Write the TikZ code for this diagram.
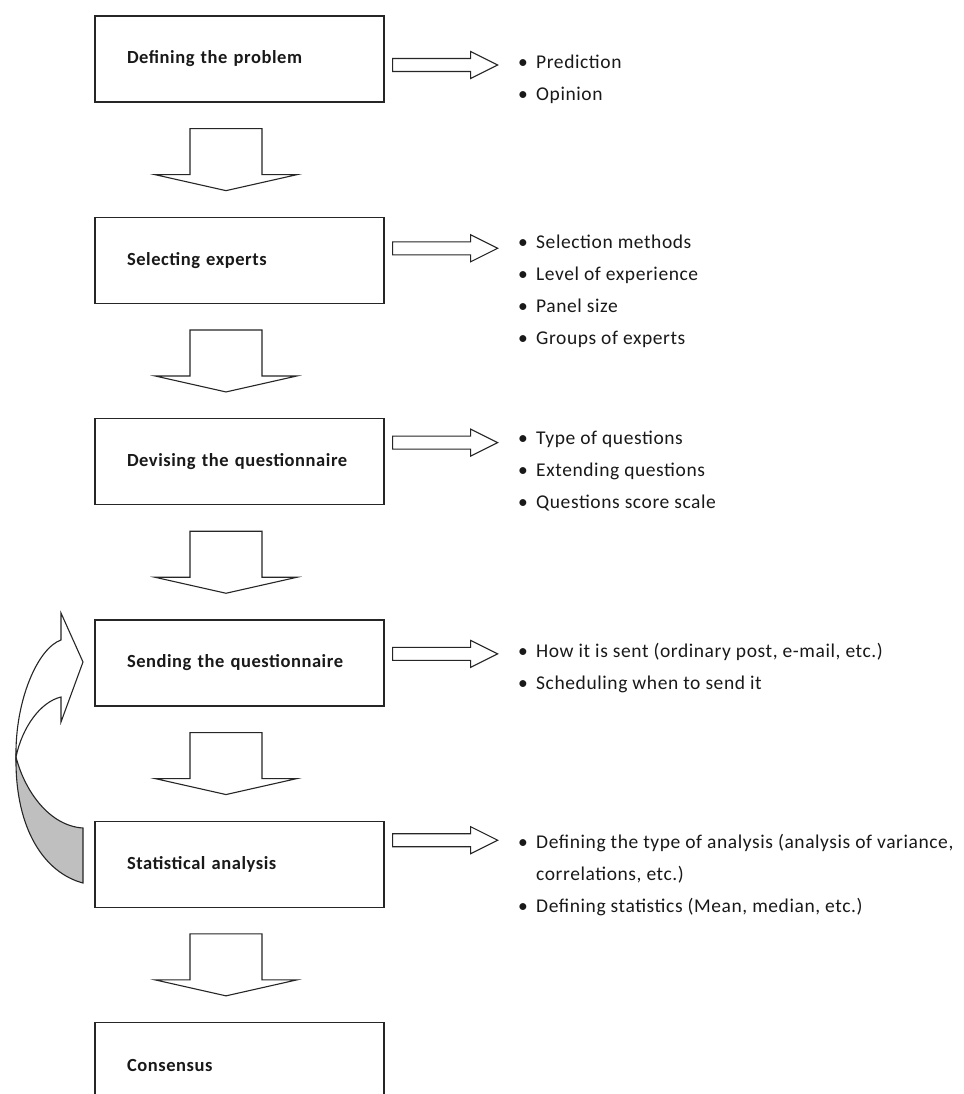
\documentclass[tikz,border=0pt]{standalone}
\usepackage{fontspec}
\setmainfont{Carlito}[LetterSpace=3]
\usetikzlibrary{positioning,calc}

\tikzset{
  stage/.style={draw=black!85, line width=1.3pt, minimum width=289pt, minimum height=86pt,
    text width=225pt, inner xsep=32pt, align=left, text=black!90,
    font=\fontsize{18.5}{22}\selectfont\bfseries},
  blockarrow/.style={draw=black!85, line width=1.1pt, fill=white, line join=miter},
  loopback/.style={draw=black!85, line width=1.1pt, fill=black!25},
  notes/.style={anchor=north west, inner sep=0pt, align=left, text=black!90,
    font=\fontsize{19.5}{32}\selectfont},
}
\newcommand{\itm}[1]{\makebox[18pt][l]{\textbullet}#1}
% fat arrow down between two stages
\newcommand{\gapdown}[2]{%
  \draw[blockarrow] ($(#1.south)!0.5!(#2.north)+(-49.5,-31)$) -- ++(72,0) -- ++(0,46)
    -- ++(35,0) -- ++(-71,16) -- ++(-71,-16) -- ++(35,0) -- cycle;}
% fat arrow to the right of a stage, #2 = shift up/down
\newcommand{\sideout}[2]{%
  \draw[blockarrow] ($(#1.east)+(8,#2-6.5)$) -- ++(78,0) -- ++(0,-7) -- ++(27,13.5)
    -- ++(-27,13.5) -- ++(0,-7) -- ++(-78,0) -- cycle;}

\begin{document}
\begin{tikzpicture}[x=1pt,y=-1pt]
\useasboundingbox[fill=white] (0,0) rectangle (963,1094);

\node[stage] (s1) at (239.5,59) {Defining the problem};
\node[stage, below=114pt of s1] (s2) {Selecting experts};
\node[stage, below=114pt of s2] (s3) {Devising the questionnaire};
\node[stage, below=114pt of s3] (s4) {Sending the questionnaire};
\node[stage, below=114pt of s4] (s5) {Statistical analysis};
\node[stage, below=114pt of s5] (s6) {Consensus};

\gapdown{s1}{s2}
\gapdown{s2}{s3}
\gapdown{s3}{s4}
\gapdown{s4}{s5}
\gapdown{s5}{s6}

\sideout{s1}{6}
\sideout{s2}{-12}
\sideout{s3}{-19}
\sideout{s4}{-9}
\sideout{s5}{-24}

\node[notes] (l1) at (518,55) {\itm{Prediction}\\ \itm{Opinion}};
\node[notes] (l2) at (518,235) {\itm{Selection methods}\\ \itm{Level of experience}\\
  \itm{Panel size}\\ \itm{Groups of experts}};
\node[notes] (l3) at (518,431) {\itm{Type of questions}\\ \itm{Extending questions}\\
  \itm{Questions score scale}};
\node[notes] (l4) at (518,643) {\itm{How it is sent (ordinary post, e-mail, etc.)}\\
  \itm{Scheduling when to send it}};
\node[notes] (l5) at (518,834) {\itm{Defining the type of analysis (analysis of variance,}\\
  \hspace*{18pt}correlations, etc.)\\ \itm{Defining statistics (Mean, median, etc.)}};

% loop back from the analysis to sending
\draw[loopback] (83,883) .. controls (45,873) and (15,830) .. (16,757)
  .. controls (25,792) and (50,826) .. (83,828) -- cycle;
\draw[blockarrow] (16,757) .. controls (15,700) and (38,648) .. (61,640) -- (61,613)
  -- (83,662) -- (61,722) -- (61,697) .. controls (40,702) and (22,728) .. (16,757) -- cycle;
\end{tikzpicture}
\end{document}
